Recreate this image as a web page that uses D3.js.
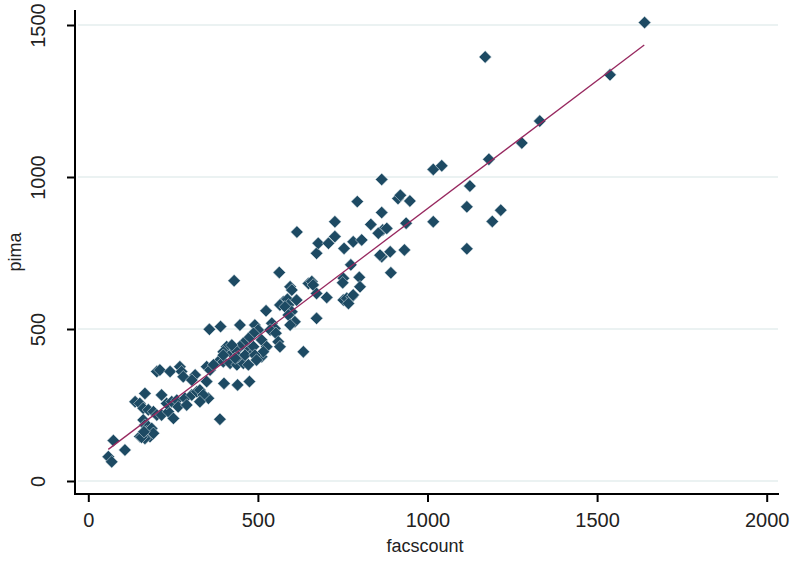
<!DOCTYPE html>
<html>
<head>
<meta charset="utf-8">
<script src="https://cdn.jsdelivr.net/npm/d3@7"></script>
<style>
  body { margin:0; background:#fff; }
  svg text { font-family: "Liberation Sans", Arial, sans-serif; fill:#222; }
</style>
</head>
<body>
<svg id="chart" width="792" height="567"></svg>
<script>

// facscount / pima pairs
var facscount = [1640,1538,1170,1331,1278,1181,1017,1042,1125,1116,1216,1191,1116,1017,937,948,913,920,865,865,868,880,855,865,890,932,892,
  793,727,833,727,781,806,754,860,774,752,799,
  673,678,708,563,430,595,600,649,659,663,673,703,750,801,752,762,777,767,781,575,587,590,565,580,614,524,600,590,609,595,673,
  357,390,447,491,501,487,541,550,536,553,560,565,634,472,477,467,457,447,511,526,511,516,408,398,423,433,
  388,398,418,438,457,442,462,349,359,369,349,400,440,475,334,354,388,
  138,167,216,202,211,241,270,275,280,152,162,177,192,202,216,236,231,246,261,265,285,290,305,320,329,339,329,251,315,305,
  162,167,177,172,182,187,192,152,167,
  59,69,74,108,157,164,
  398,423,433,472,487,491,496,615];
var pima = [1508,1336,1395,1184,1112,1058,1025,1037,970,902,891,854,764,853,848,921,929,940,992,883,826,831,815,738,754,760,685,
  919,853,844,804,787,793,765,743,711,667,670,
  749,782,782,686,659,639,628,650,656,645,617,604,652,639,595,601,606,584,612,590,598,579,579,573,595,560,557,546,524,513,535,
  499,508,513,513,497,486,519,502,497,486,458,442,425,469,431,442,453,442,464,442,409,425,442,425,420,431,
  398,392,387,382,387,409,414,376,365,382,327,321,316,327,288,272,203,
  261,288,283,360,365,360,376,360,343,255,239,234,228,217,217,228,255,261,266,244,272,250,283,294,299,283,261,206,349,332,
  201,184,179,162,146,173,157,146,140,
  80,63,133,102,144,162,
  414,447,404,382,442,414,398,819];

// fitted line
var fitX = [59, 1639];
var fitY = [104, 1434];

var xTicks = [0, 500, 1000, 1500, 2000];
var yTicks = [0, 500, 1000, 1500];

function draw(){
  var svg = d3.select('#chart');
  var x = d3.scaleLinear().domain([0,2000]).range([88.3,766.7]);
  var y = d3.scaleLinear().domain([0,1500]).range([481,25]);

  // grid
  svg.append('g').selectAll('line').data(yTicks).enter().append('line')
     .attr('x1',78).attr('x2',778)
     .attr('y1',function(d){return y(d);}).attr('y2',function(d){return y(d);})
     .attr('stroke','#e4eeee').attr('stroke-width',1.5);

  // axes
  var ya = svg.append('g').attr('transform','translate(75,0)')
     .call(d3.axisLeft(y).tickValues(yTicks).tickSize(8).tickSizeOuter(0).tickFormat(d3.format('d')));
  ya.select('.domain').remove();
  ya.selectAll('.tick line').attr('stroke','#000').attr('stroke-width',2);
  ya.selectAll('.tick text').attr('font-size',20).attr('fill','#222')
    .attr('transform','rotate(-90)').attr('x',0).attr('y',-30).attr('dy',0)
    .attr('text-anchor','middle').style('font-family','"Liberation Sans", Arial, sans-serif');

  var xa = svg.append('g').attr('transform','translate(0,494)')
     .call(d3.axisBottom(x).tickValues(xTicks).tickSize(8).tickSizeOuter(0).tickFormat(d3.format('d')));
  xa.select('.domain').remove();
  xa.selectAll('.tick line').attr('stroke','#000').attr('stroke-width',2);
  xa.selectAll('.tick text').attr('font-size',20).attr('fill','#222').attr('y',26).attr('dy','0.35em')
    .style('font-family','"Liberation Sans", Arial, sans-serif');

  svg.append('line').attr('x1',75).attr('x2',75).attr('y1',10).attr('y2',495)
     .attr('stroke','#000').attr('stroke-width',2);
  svg.append('line').attr('x1',74).attr('x2',779).attr('y1',494).attr('y2',494)
     .attr('stroke','#000').attr('stroke-width',2);

  // points
  var pts = d3.range(facscount.length).map(function(i){return {x:facscount[i], y:pima[i]};});
  var sym = d3.symbol().type(d3.symbolSquare).size(78);
  svg.append('g').selectAll('path').data(pts).enter().append('path')
     .attr('d', sym)
     .attr('transform', function(d){return 'translate('+x(d.x)+','+y(d.y)+') rotate(45)';})
     .attr('fill','#1d4a63').attr('stroke','#dfe8ec').attr('stroke-width',0.5);

  // fit line
  svg.append('line')
     .attr('x1',x(fitX[0])).attr('y1',y(fitY[0]))
     .attr('x2',x(fitX[1])).attr('y2',y(fitY[1]))
     .attr('stroke','#97285f').attr('stroke-width',1.3);

  // titles
  svg.append('text').attr('x',425).attr('y',552).attr('text-anchor','middle')
     .attr('font-size',18).text('facscount');
  svg.append('text').attr('transform','translate(21,252) rotate(-90)').attr('text-anchor','middle')
     .attr('font-size',18).text('pima');
}

draw();
</script>
</body>
</html>
